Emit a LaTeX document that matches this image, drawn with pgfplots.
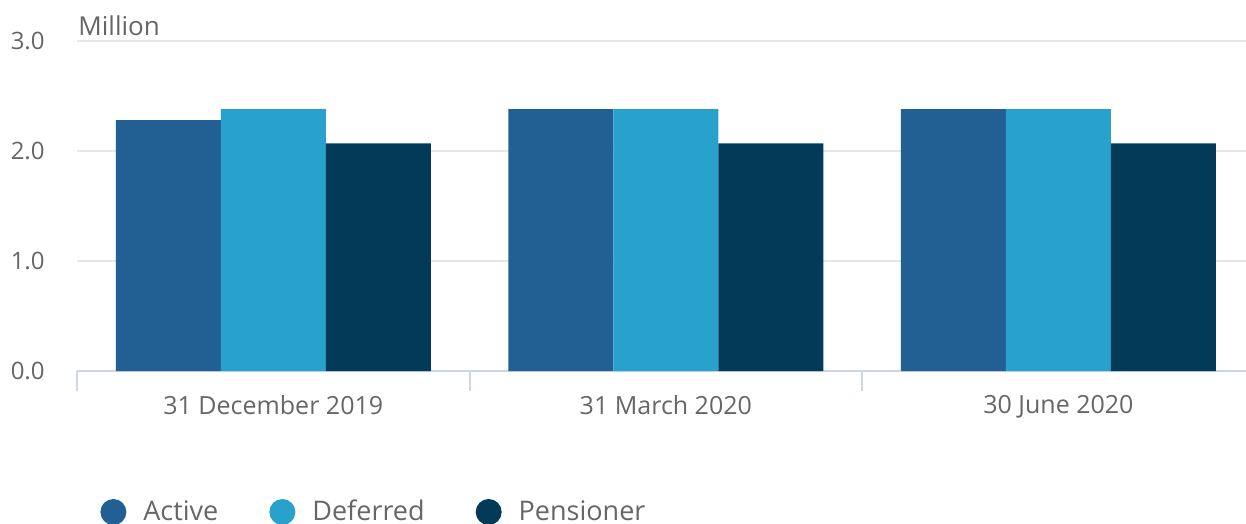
\documentclass[border=0pt]{standalone}
\usepackage{pgfplots}
\pgfplotsset{compat=1.18}
\usepackage{fontspec}
\setmainfont{Open Sans}
\definecolor{cActive}{HTML}{226094}
\definecolor{cDeferred}{HTML}{28A1CC}
\definecolor{cPension}{HTML}{033A58}
\definecolor{txt}{HTML}{666666}
\definecolor{gridc}{HTML}{E6E6E6}
\definecolor{axc}{HTML}{CCD6EB}
\begin{document}
\begin{tikzpicture}
\path[use as bounding box] (-38.5pt,-76.5pt) rectangle (584.5pt,185.5pt);
\begin{axis}[
    at={(0,0)}, anchor=south west,
    scale only axis, clip=false,
    width=584.5pt, height=165pt,
    ybar=0pt, bar width=52.5pt,
    xmin=-0.5, xmax=2.478,
    ymin=0, ymax=3,
    xtick={0,1,2},
    xticklabels={31 December 2019, 31 March 2020, 30 June 2020},
    ytick={0,1,2,3},
    /pgf/number format/assume math mode=true,
    font=\fontsize{12}{14}\selectfont,
    ticklabel style={text=txt, inner sep=0pt},
    yticklabel style={anchor=east, xshift=-16pt,
        /pgf/number format/fixed, /pgf/number format/fixed zerofill,
        /pgf/number format/precision=1},
    xticklabel style={anchor=north, yshift=-12pt, font=\fontsize{12.5}{14}\selectfont},
    axis x line*=bottom,
    axis y line*=left,
    y axis line style={draw=none},
    x axis line style={draw=axc, line width=1pt},
    ytick style={draw=none},
    xtick style={draw=axc, line width=1pt},
    major tick length=0pt,
    tick align=outside,
    extra x ticks={-0.5,0.5,1.5},
    extra x tick labels={},
    extra x tick style={major tick length=10pt},
    ymajorgrids,
    grid style={draw=gridc, line width=1pt},
    legend columns=3,
    legend image code/.code={\fill[#1] (0pt,0pt) circle (6.5pt);},
    legend style={draw=none, fill=none, at={(axis description cs:0,0)},
        anchor=west, xshift=8.5pt, yshift=-70.5pt,
        font=\fontsize{13.5}{15}\selectfont, text=txt,
        nodes={inner sep=0pt},
        /tikz/every odd column/.append style={column sep=8.5pt},
        /tikz/every even column/.append style={column sep=25.5pt}},
    legend cell align=left,
]
\addplot[fill=cActive, draw=none] coordinates {(0,2.28) (1,2.38) (2,2.38)};
\addplot[fill=cDeferred, draw=none] coordinates {(0,2.38) (1,2.38) (2,2.38)};
\addplot[fill=cPension, draw=none] coordinates {(0,2.07) (1,2.07) (2,2.07)};
\legend{Active, Deferred, Pensioner}
\node[anchor=base west, inner sep=0pt, text=txt, font=\fontsize{13}{15}\selectfont]
    at (rel axis cs:0,1) [xshift=0.5pt, yshift=3pt] {Million};
\end{axis}
\end{tikzpicture}
\end{document}
